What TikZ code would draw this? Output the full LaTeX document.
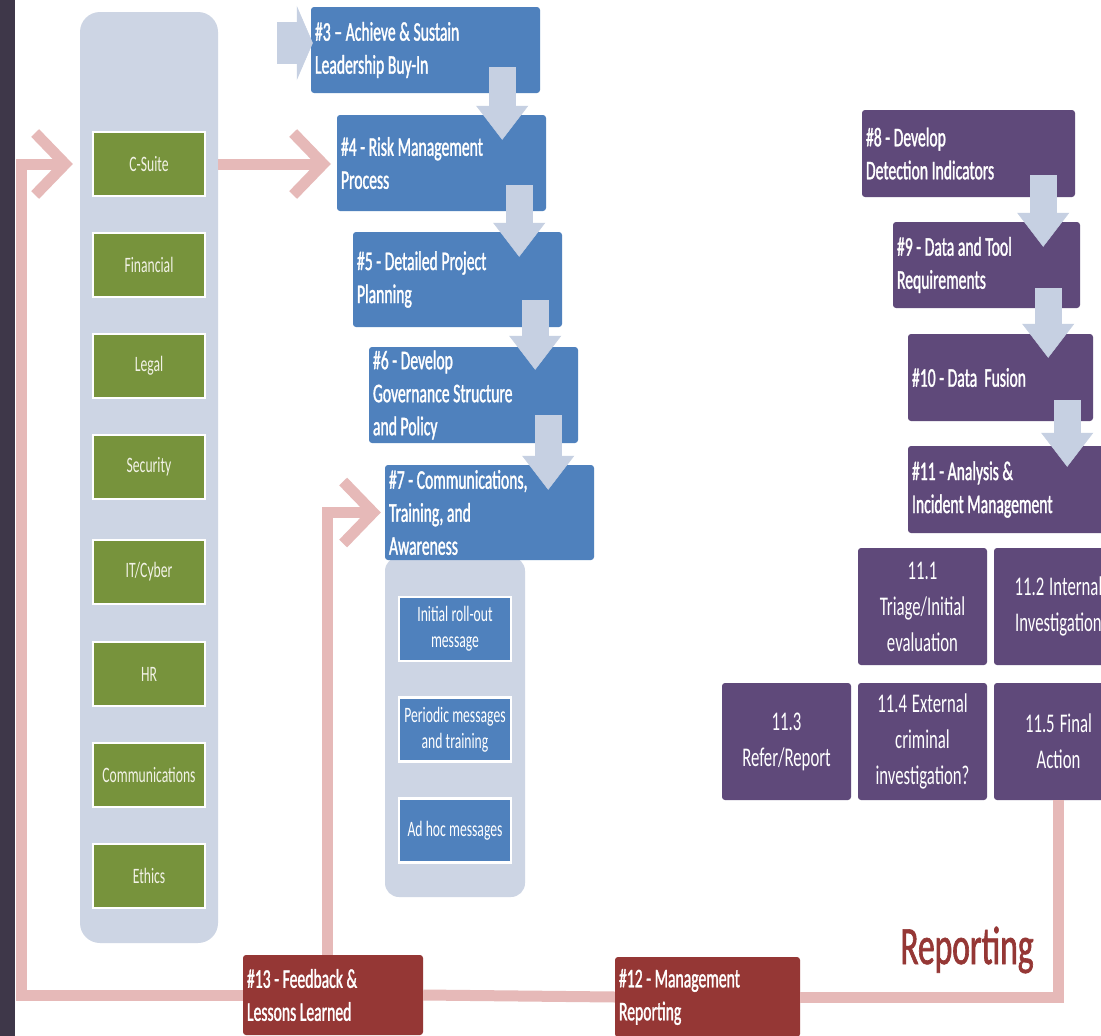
\documentclass[tikz,border=0pt]{standalone}
\usepackage{fontspec}
\usetikzlibrary{arrows.meta,calc}
\newfontfamily\condfont[FakeStretch=0.62]{Carlito}
\newfontfamily\condbold[FakeStretch=0.58,FakeBold=1.2]{Carlito}
\newfontfamily\titlebold[FakeStretch=0.62,FakeBold=1.2]{Carlito}
\newcommand\labelfont{\condfont\fontsize{22}{26}\selectfont}
\newcommand\stagefont{\condbold\fontsize{27}{33}\selectfont}
\newcommand\taskfont{\condfont\fontsize{27}{36}\selectfont}
% word spaces to suit the condensed faces (applied after the alignment set-up)
\newcommand\wordgap[1]{\spaceskip=#1 plus 1pt minus 0.5pt\xspaceskip=#1 plus 1pt\relax}
\definecolor{barc}{HTML}{3E3749}
\definecolor{panelc}{HTML}{CDD5E4}
\definecolor{arrowc}{HTML}{C6D0E2}
\definecolor{grnc}{HTML}{77933C}
\definecolor{grntext}{HTML}{F2F2E6}
\definecolor{bluc}{HTML}{4F81BD}
\definecolor{purc}{HTML}{5F497A}
\definecolor{redc}{HTML}{953735}
\definecolor{pinkc}{HTML}{E6B9B8}
\begin{document}
\begin{tikzpicture}[x=1pt,y=-1pt,
  panel/.style={rectangle, rounded corners=20pt, fill=panelc, inner sep=0pt},
  greenbox/.style={rectangle, fill=grnc, draw=white, line width=2.5pt,
    minimum width=112pt, minimum height=64pt, inner sep=0pt, text=grntext,
    font=\labelfont},
  subbox/.style={rectangle, fill=bluc, draw=white, line width=2.5pt,
    minimum width=112pt, minimum height=64pt, inner sep=0pt, text=white,
    align=center, font=\labelfont, execute at begin node={\wordgap{3.2pt}}},
  stage/.style={rectangle, rounded corners=3pt, text=white, align=left,
    inner xsep=4pt, inner ysep=0pt, font=\stagefont,
    execute at begin node={\wordgap{3.6pt}}},
  bluestage/.style={stage, fill=bluc},
  purstage/.style={stage, fill=purc},
  redstage/.style={stage, fill=redc},
  task/.style={rectangle, rounded corners=3pt, fill=purc, text=white, align=center,
    inner sep=0pt, text width=129pt, minimum height=117pt, font=\taskfont,
    execute at begin node={\wordgap{4.5pt}}},
  pinkline/.style={draw=pinkc, line width=11pt},
  pinkarr/.style={pinkline, -{Straight Barb[length=30pt, width=62pt]}},
  blk/.style={draw=arrowc, line width=27pt,
    -{Triangle[length=34pt, width=52pt, line width=0.5pt]}}]

\path[use as bounding box] (0,0) rectangle (1101,1036);
\clip (0,0) rectangle (1101,1036);
\fill[white] (0,0) rectangle (1101,1036);
\fill[barc] (0,0) rectangle (15,1036);

% stakeholder column
\node[panel, minimum width=138pt, minimum height=931pt] (panel) at (149,477.5) {};
\node[greenbox] (cs)  at (149,164)   {C-Suite};
\node[greenbox] (fin) at (149,265)   {Financial};
\node[greenbox] (leg) at (149,366)   {Legal};
\node[greenbox] (sec) at (149,467)   {Security};
\node[greenbox] (it)  at (149,572)   {IT/Cyber};
\node[greenbox] (hr)  at (149,674)   {HR};
\node[greenbox] (com) at (149,775)   {Communications};
\node[greenbox] (eth) at (149,876)   {Ethics};

% communications sub-steps
\node[panel, rounded corners=14pt, minimum width=140pt, minimum height=340pt] (subpanel) at (455,727) {};
\node[subbox] (m1) at (455,629)   {Initial roll-out\\message};
\node[subbox] (m2) at (455,729.5) {Periodic messages\\and training};
\node[subbox] (m3) at (455,830.5) {Ad hoc messages};

% program steps
\node[bluestage, text width=221pt, minimum height=86pt] (s3) at (425.5,50)  {\#3 – Achieve \& Sustain\\Leadership Buy-In};
\node[bluestage, text width=201pt, minimum height=96pt] (s4) at (441.5,163) {\#4 - Risk Management\\Process};
\node[bluestage, text width=201pt, minimum height=95pt] (s5) at (457.5,279.5) {\#5 - Detailed Project\\Planning};
\node[bluestage, text width=201pt, minimum height=96pt] (s6) at (473.5,395) {\#6 - Develop\\Governance Structure\\and Policy};
\node[bluestage, text width=201pt, minimum height=95pt] (s7) at (489.5,512.5) {\#7 - Communications,\\Training, and\\Awareness};

\node[purstage, text width=205pt, minimum height=87pt] (s8)  at (968.5,153.5) {\#8 - Develop\\Detection Indicators};
\node[purstage, text width=179pt, minimum height=86pt] (s9)  at (986.5,265)   {\#9 - Data and Tool\\Requirements};
\node[purstage, text width=177pt, minimum height=87pt] (s10) at (1000.5,377.5) {\#10 - Data~ Fusion};
\node[purstage, text width=207pt, minimum height=87pt] (s11) at (1015.5,489.5) {\#11 - Analysis \&\\Incident Management};

\node[task] (t1) at (922.5,606.5)  {11.1\\Triage/Initial\\evaluation};
\node[task] (t2) at (1058.5,606.5) {11.2 Internal\\Investigation};
\node[task] (t3) at (786.5,741.5)  {11.3\\Refer/Report};
\node[task] (t4) at (922.5,741.5)  {11.4 External\\criminal\\investigation?};
\node[task] (t5) at (1058.5,741.5) {11.5 Final\\Action};

\node[redstage, text width=172pt, minimum height=80pt] (s13) at (333,995)   {\#13 - Feedback \&\\Lessons Learned};
\node[redstage, text width=177pt, minimum height=80pt] (s12) at (707.5,997) {\#12 - Management\\Reporting};

\node[text=redc, font=\titlebold\fontsize{54}{60}\selectfont, inner sep=0pt] (rep) at (967,950) {Reporting};

% feedback loop
\draw[pinkline] (t5.south) |- (s12.east);
\draw[pinkline] (s12.west) -- (s13.east);
\draw[pinkarr] (s13.west) -| ([xshift=-58pt]panel.west |- cs.center) -- ([xshift=-7pt]panel.west |- cs.center);
\draw[pinkarr] ([xshift=-6pt]s13.north) |- ([xshift=-4pt]s7.west);
\draw[pinkarr] (panel.east |- cs.center) -- ([xshift=-6pt]s4.west |- cs.center);

% step-to-step block arrows
\coordinate (feed3) at (277,43);
\draw[blk, line width=42pt, -{Triangle[length=16pt, width=74pt, line width=0.5pt]}] (feed3) -- ([xshift=2pt]s3.west |- feed3);
\draw[blk] ([shift={(-38,-26)}]s3.south east) -- ([shift={(-38,25)}]s3.south east |- s4.north);
\draw[blk] ([shift={(-27,-26)}]s4.south east) -- ([shift={(-27,25)}]s4.south east |- s5.north);
\draw[blk] ([shift={(-27,-27)}]s5.south east) -- ([shift={(-27,23)}]s5.south east |- s6.north);
\draw[blk] ([shift={(-30,-28)}]s6.south east) -- ([shift={(-30,25)}]s6.south east |- s7.north);
\draw[blk] ([shift={(-32,-22)}]s8.south east) -- ([shift={(-32,25)}]s8.south east |- s9.north);
\draw[blk] ([shift={(-32,-20)}]s9.south east) -- ([shift={(-32,24)}]s9.south east |- s10.north);
\draw[blk] ([shift={(-26,-21)}]s10.south east) -- ([shift={(-26,21)}]s10.south east |- s11.north);
\end{tikzpicture}
\end{document}
